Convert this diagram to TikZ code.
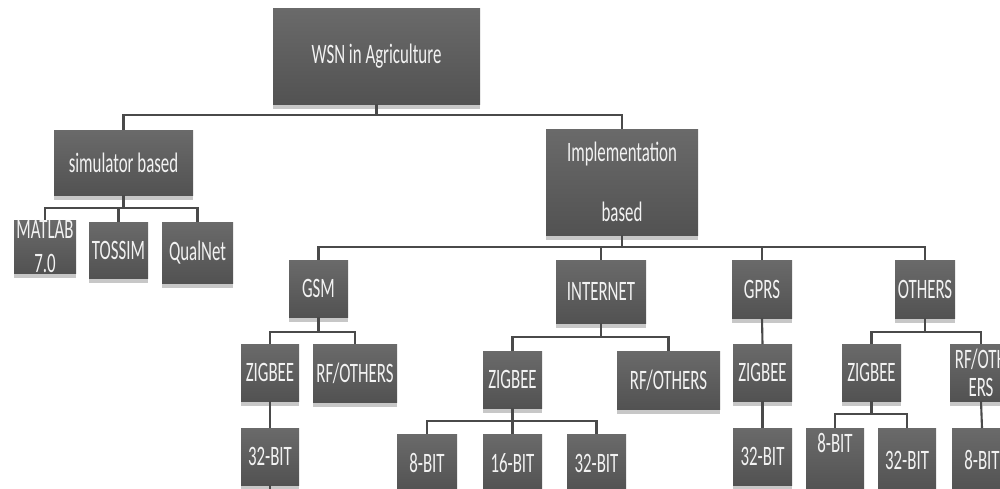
\documentclass[tikz,border=0pt]{standalone}
\usepackage{fontspec}
\newfontfamily\cond[FakeStretch=0.6]{Carlito}
\usetikzlibrary{shadows}
\definecolor{boxtop}{HTML}{6A6A6A}
\definecolor{boxbot}{HTML}{525252}
\definecolor{linecol}{HTML}{4A4A4A}
\definecolor{txtcol}{HTML}{F2F2F2}
\tikzset{
  boxst/.style={rectangle, draw=none, top color=boxtop, bottom color=boxbot,
    text=txtcol, inner sep=0pt, outer sep=0pt, align=center,
    font=\cond\fontsize{16}{19}\selectfont,
    drop shadow={shadow xshift=0pt, shadow yshift=-3pt, opacity=0.22, fill=black}},
  conn/.style={draw=linecol, line width=1.2pt}
}
\newcommand\bx[7][]{\node[boxst,#1, minimum width={(#5-#3)*0.02cm}, minimum height={(#6-#4)*0.02cm}] (#2) at ({(#3+#5)/2},{(#4+#6)/2}) {#7};}
\begin{document}
\begin{tikzpicture}[x=0.02cm, y=-0.02cm]
\useasboundingbox (0,0) rectangle (1000,488);
\fill[white] (0,0) rectangle (1000,488);
\clip (0,0) rectangle (1000,488);
% bus levels
\coordinate (b0) at (0,115);
\coordinate (b1) at (0,208);
\coordinate (b2) at (0,247);
\coordinate (b3) at (0,332);
\coordinate (b4) at (0,337);
\coordinate (b5) at (0,421);
\coordinate (b6) at (0,414);
\coordinate (bend) at (0,500);
% connectors (drawn first, boxes on top)
\begin{scope}[on background layer/.style={}]
\end{scope}
% nodes
\bx{wsn}{273}{8}{480}{104}{WSN in Agriculture}
\bx{sim}{54}{130}{193}{195}{simulator based}
\bx{impl}{546}{129}{698}{235}{Implementation\\[15pt]based}
\bx[font=\cond\fontsize{16}{19}\selectfont]{matlab}{14}{220}{76}{273}{MATLAB\\7.0}
\bx{tossim}{89}{222}{148}{278}{TOSSIM}
\bx{qualnet}{162}{222}{233}{283}{QualNet}
\bx{gsm}{289}{260}{348}{317}{GSM}
\bx{internet}{556}{260}{646}{323}{INTERNET}
\bx{gprs}{732}{260}{792}{318}{GPRS}
\bx{others}{895}{260}{955}{318}{OTHERS}
\bx{gz}{241}{344}{299}{401}{ZIGBEE}
\bx{grf}{313}{344}{397}{402}{RF/OTHERS}
\bx{g32}{241}{428}{299}{485}{32-BIT}
\bx{iz}{483}{351}{542}{408}{ZIGBEE}
\bx{irf}{617}{351}{720}{409}{RF/OTHERS}
\bx{i8}{397}{434}{457}{492}{8-BIT}
\bx{i16}{483}{434}{542}{492}{16-BIT}
\bx{i32}{567}{434}{626}{492}{32-BIT}
\bx{pz}{733}{344}{792}{401}{ZIGBEE}
\bx{p32}{733}{428}{792}{485}{32-BIT}
\bx{oz}{842}{344}{901}{401}{ZIGBEE}
\bx[font=\cond\fontsize{16}{16}\selectfont]{orf}{950}{344}{1012}{401}{RF/OTH\\ERS}
\bx[text depth=20pt]{o8}{806}{428}{864}{492}{8-BIT}
\bx{o32}{878}{428}{936}{492}{32-BIT}
\bx{or8}{952}{428}{1012}{492}{8-BIT}
% connectors
\draw[conn] (wsn.south) -- (wsn.south |- b0) -| (sim.north);
\draw[conn] (wsn.south |- b0) -| (impl.north);
\draw[conn] (sim.south) -- (sim.south |- b1) -| (matlab.north);
\draw[conn] (sim.south |- b1) -| (tossim.north);
\draw[conn] (sim.south |- b1) -| (qualnet.north);
\draw[conn] (impl.south) -- (impl.south |- b2) -| (gsm.north);
\draw[conn] (impl.south |- b2) -| (internet.north);
\draw[conn] (impl.south |- b2) -| (gprs.north);
\draw[conn] (impl.south |- b2) -| (others.north);
\draw[conn] (gsm.south) -- (gsm.south |- b3) -| (gz.north);
\draw[conn] (gsm.south |- b3) -| (grf.north);
\draw[conn] (gz.south) -- (g32.north);
\draw[conn] (g32.south) -- (g32.south |- bend);
\draw[conn] (internet.south) -- (internet.south |- b4) -| (iz.north);
\draw[conn] (internet.south |- b4) -| (irf.north);
\draw[conn] (iz.south) -- (iz.south |- b5) -| (i8.north);
\draw[conn] (iz.south) -- (i16.north);
\draw[conn] (iz.south |- b5) -| (i32.north);
\draw[conn] (gprs.south) -- (pz.north);
\draw[conn] (pz.south) -- (p32.north);
\draw[conn] (others.south) -- (others.south |- b3) -| (oz.north);
\draw[conn] (others.south |- b3) -| (orf.north);
\draw[conn] (oz.south) -- (oz.south |- b6) -| (o8.north);
\draw[conn] (oz.south |- b6) -| (o32.north);
\draw[conn] (o32.south) -- (o32.south |- bend);
\draw[conn] (orf.south) -- (or8.north);
\end{tikzpicture}
\end{document}
